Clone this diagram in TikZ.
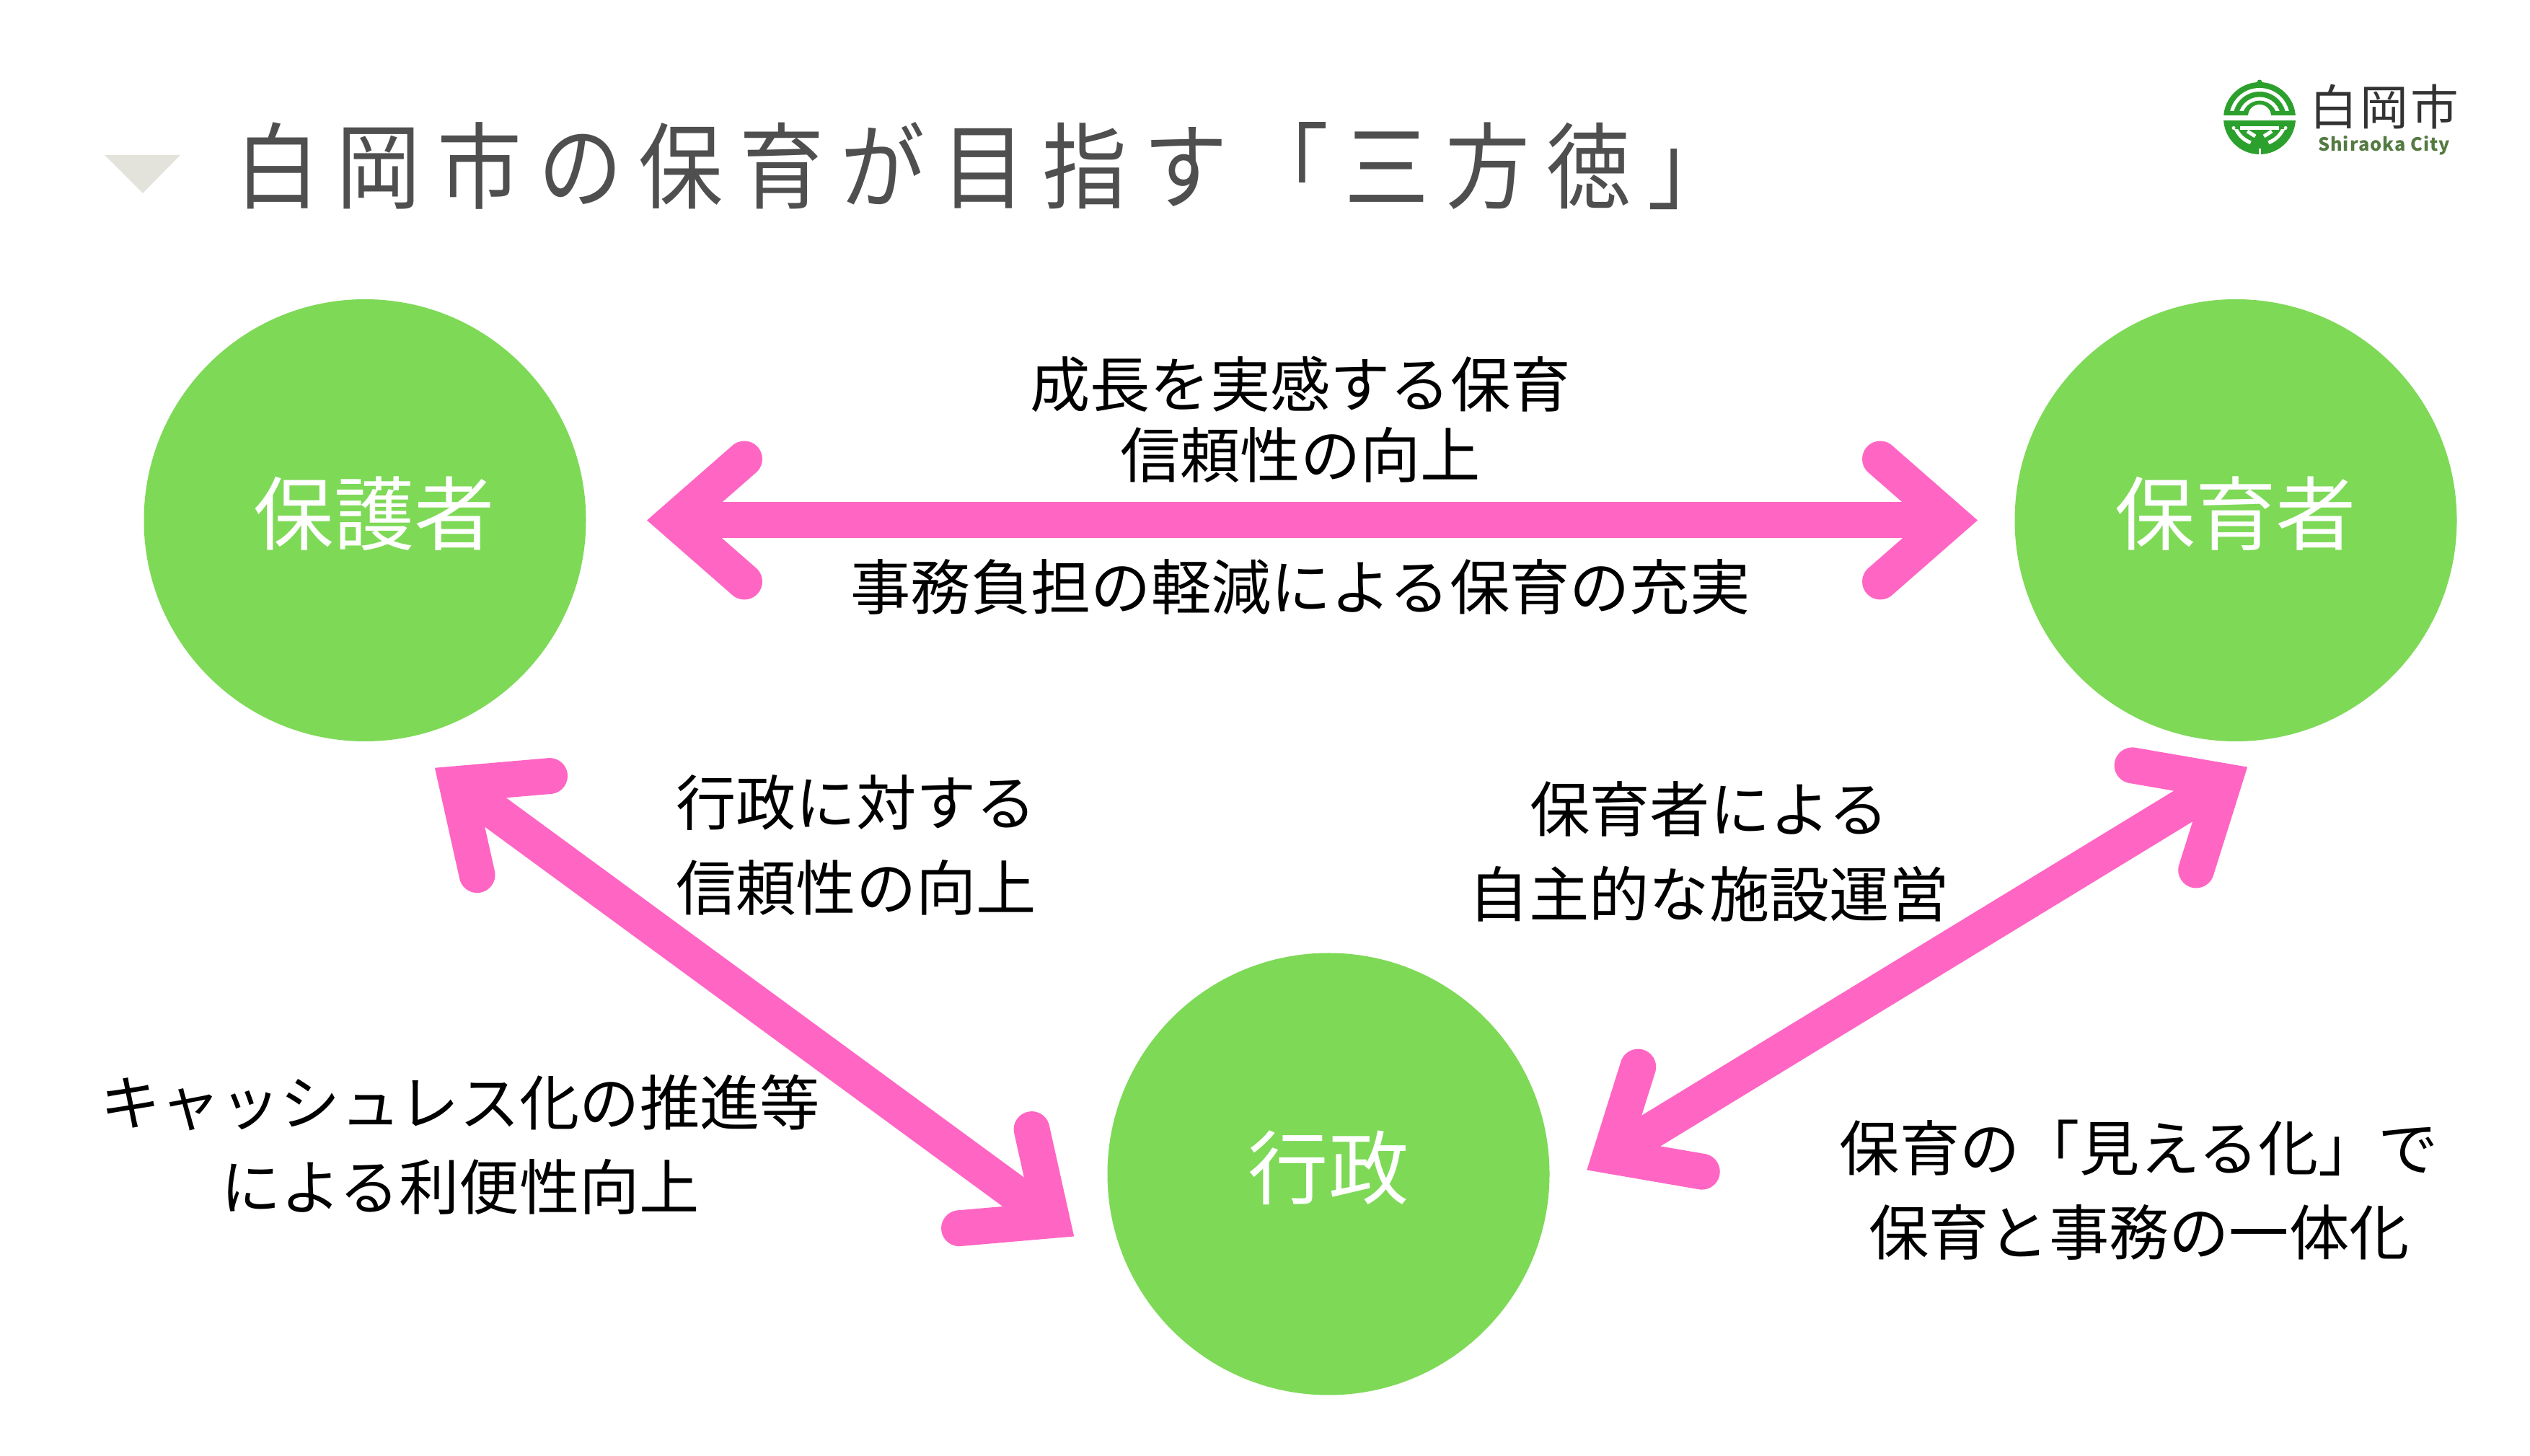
\documentclass[tikz,border=0pt]{standalone}
\usepackage{fontspec}
\setmainfont{Noto Sans CJK JP}
\definecolor{r255g102b196}{RGB}{255,102,196}
\definecolor{r126g217b87}{RGB}{126,217,87}
\definecolor{r79g79b79}{RGB}{79,79,79}
\definecolor{r227g227b220}{RGB}{227,227,220}
\definecolor{r44g160b44}{RGB}{44,160,44}
\definecolor{r84g122b66}{RGB}{84,122,66}
\definecolor{r51g51b51}{RGB}{51,51,51}
% tip of the pink arrows, 0.01cm = one pixel of the reference
\pgfdeclarearrow{
  name=BarbTip,
  setup code={
    \pgfarrowssettipend{0pt}
    \pgfarrowssetbackend{-1.7cm}
    \pgfarrowssetlineend{-0.9cm}
    \pgfarrowssetvisualbackend{-0.9cm}
    \pgfarrowshullpoint{0pt}{0pt}
    \pgfarrowshullpoint{-1.6cm}{1.1cm}
    \pgfarrowshullpoint{-1.6cm}{-1.1cm}
  },
  drawing code={
    \pgfpathmoveto{\pgfpointorigin}
    \pgfpathlineto{\pgfpoint{-1.185cm}{1.037cm}}
    \pgfpathlineto{\pgfpoint{-1.515cm}{0.663cm}}
    \pgfpathlineto{\pgfpoint{-1.043cm}{0.25cm}}
    \pgfpathlineto{\pgfpoint{-1.043cm}{-0.25cm}}
    \pgfpathlineto{\pgfpoint{-1.515cm}{-0.663cm}}
    \pgfpathlineto{\pgfpoint{-1.185cm}{-1.037cm}}
    \pgfpathclose
    \pgfpathcircle{\pgfpoint{-1.35cm}{0.85cm}}{0.25cm}
    \pgfpathcircle{\pgfpoint{-1.35cm}{-0.85cm}}{0.25cm}
    \pgfusepathqfill
  },
  defaults={}
}
\tikzset{
  party/.style={circle,fill=r126g217b87,text=white,minimum size=6.13cm,inner sep=0pt,outer sep=0pt,
    text height=0.99cm,text depth=0.32cm,font=\fontsize{31.7}{32}\selectfont},
  link/.style={draw=r255g102b196,line width=0.5cm,BarbTip-BarbTip},
  caption/.style={align=center,font=\fontsize{23.7}{33.4}\selectfont,text=black},
  titletext/.style={text=r79g79b79,font=\fontsize{37}{37}\selectfont,inner sep=0pt,xscale=0.9},
  logoband/.style={white,line width=0.05cm},
}
\begin{document}
\begin{tikzpicture}
  \useasboundingbox (0,0) rectangle (35.08,20.18);
  % Title
  \node[titletext,anchor=west] (title) at (3.26,17.88) {\addfontfeatures{LetterSpace=19.5}白岡市の保育が目指す「三方徳」};
  \fill[r227g227b220] (1.45,18.03) -- (2.50,18.03) -- (1.98,17.50) -- cycle;
  % Logo
  \begin{scope}[shift={(31.33,18.54)}]
    \fill[r44g160b44] (0,0) circle (0.5);
    \fill[r44g160b44] (0,0.5) circle (0.035);
    \begin{scope}
      \clip (-0.5,0.10) rectangle (0.5,0.5);
      \draw[logoband] (0,0) circle (0.395);
      \draw[logoband] (0,0) circle (0.27);
    \end{scope}
    \fill[white] (-0.16,0) -- (-0.16,0.03) arc (180:0:0.16) -- (0.16,0) -- cycle;
    \fill[white] (-0.52,-0.03) rectangle (0.52,0.04);
    \fill[white] (-0.27,-0.16) rectangle (0.27,-0.11);
    \fill[white] (-0.36,-0.135) circle (0.025);
    \fill[white] (0.36,-0.135) circle (0.025);
    \begin{scope}
      \clip (-0.5,-0.5) rectangle (0.5,-0.16);
      \draw[logoband] (-110:0.36) arc (-110:-160:0.36);
      \draw[logoband] (-70:0.36) arc (-70:-20:0.36);
      \fill[white] (-0.015,-0.5) rectangle (0.015,-0.42);
      \draw[logoband] (-0.17,-0.18) -- (-0.06,-0.25);
      \draw[logoband] (0.17,-0.18) -- (0.06,-0.25);
    \end{scope}
  \end{scope}
  \node[text=r51g51b51,font=\fontsize{19}{19}\selectfont,inner sep=0pt] (logoname) at (33.06,18.70) {\addfontfeatures{LetterSpace=5}白岡市};
  \node[text=r84g122b66,font=\bfseries\fontsize{7.2}{7.2}\selectfont,inner sep=0pt] (logocity) at (33.055,18.16) {\addfontfeatures{LetterSpace=4}Shiraoka City};
  % Circles
  \node[party] (hogosha) at (5.06,12.965) {\hspace*{0.26cm}保護者};
  \node[party] (hoikusha) at (31.0,12.965) {保育者};
  \node[party] (gyosei) at (18.42,3.90) {行政};
  % Arrows
  \draw[link,shorten <=0.845cm,shorten >=0.515cm] (hogosha) -- (hoikusha);
  \draw[link,shorten <=0.673cm,shorten >=1.051cm] (hogosha.-82.4) -- (gyosei.-151.8);
  \draw[link,shorten <=0.62cm,shorten >=1.039cm] (gyosei.-5.32) -- (hoikusha.-70.64);
  % Captions
  \node[caption,font=\fontsize{23.7}{28}\selectfont] (capA) at (18.03,14.36) {成長を実感する保育\\信頼性の向上};
  \node[caption] (capB) at (18.03,12.04) {事務負担の軽減による保育の充実};
  \node[caption] (capC) at (11.87,8.46) {行政に対する\\信頼性の向上};
  \node[caption] (capD) at (6.38,4.31) {キャッシュレス化の推進等\\による利便性向上};
  \node[caption] (capE) at (23.70,8.37) {保育者による\\自主的な施設運営};
  \node[caption] (capF) at (29.66,3.68) {保育の「見える化」で\\保育と事務の一体化};
\end{tikzpicture}
\end{document}
